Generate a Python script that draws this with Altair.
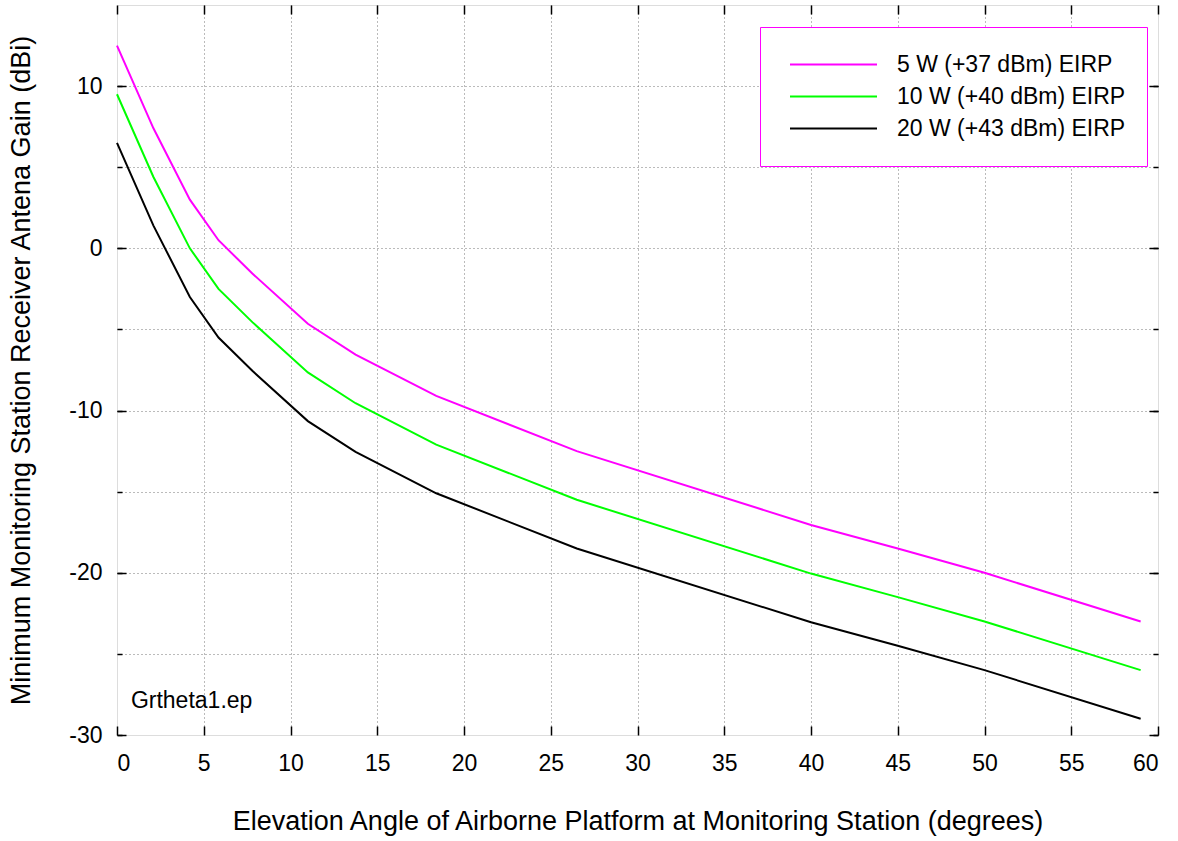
import altair as alt
import pandas as pd

# ---- data ----
angles = [0, 2.1, 4.2, 5.85, 7.8, 11.0, 13.75, 18.4, 26.5, 40, 45, 50, 59]
gain_5w = [12.5, 7.4, 3.0, 0.5, -1.55, -4.65, -6.55, -9.1, -12.5, -17.05, -18.5, -20.0, -23.0]
gain_10w = [9.5, 4.4, 0.0, -2.5, -4.55, -7.65, -9.55, -12.1, -15.5, -20.05, -21.5, -23.0, -26.0]
gain_20w = [6.5, 1.4, -3.0, -5.5, -7.55, -10.65, -12.55, -15.1, -18.5, -23.05, -24.5, -26.0, -29.0]

series_names = ["5 W (+37 dBm) EIRP", "10 W (+40 dBm) EIRP", "20 W (+43 dBm) EIRP"]
series_colors = ["#ff00ff", "#00ff00", "#000000"]
series_widths = [2, 2, 1.5]

x_ticks = [0, 5, 10, 15, 20, 25, 30, 35, 40, 45, 50, 55, 60]
x_grid = [5, 10, 15, 20, 25, 30, 35, 40, 45, 50, 55]
y_major = [-30, -20, -10, 0, 10]
y_minor = [-30, -25, -20, -15, -10, -5, 0, 5, 10]
y_grid = [-25, -20, -15, -10, -5, 0, 5, 10]

note_text = ["Grtheta1.ep"]
note_x = [0.8]
note_y = [-27.9]

x_title = "Elevation Angle of Airborne Platform at Monitoring Station (degrees)"
y_title = "Minimum Monitoring Station Receiver Antena Gain (dBi)"

FONT = "Liberation Sans"
W, H = 1041, 730
HYPHEN_LABEL = "datum.value < 0 ? '-' + abs(datum.value) : '' + datum.value"

rows = []
for name, vals in zip(series_names, [gain_5w, gain_10w, gain_20w]):
    for i, (a, g) in enumerate(zip(angles, vals)):
        rows.append({"angle": a, "gain": g, "series": name, "order": i})
df = pd.DataFrame(rows)
note_df = pd.DataFrame({"x": note_x, "y": note_y, "t": note_text})

xs = alt.Scale(domain=[0, 60], nice=False, zero=False)
ys = alt.Scale(domain=[-30, 15], nice=False, zero=False)

common = dict(domain=False, labelFont=FONT, titleFont=FONT, tickColor="#000",
              labelColor="#000", titleColor="#000", titleFontWeight="normal")

# grid layer
grid_layer = alt.Chart(df).mark_point(opacity=0).encode(
    x=alt.X("angle:Q", scale=xs, axis=alt.Axis(orient="bottom", values=x_grid, grid=True,
            gridDash=[1, 3], gridColor="#777", gridWidth=1, ticks=False, labels=False,
            title=None, **common)),
    y=alt.Y("gain:Q", scale=ys, axis=alt.Axis(orient="left", values=y_grid, grid=True,
            gridDash=[1, 3], gridColor="#777", gridWidth=1, ticks=False, labels=False,
            title=None, **common)),
)

lines = alt.Chart(df).mark_line().encode(
    x=alt.X("angle:Q", scale=xs, axis=alt.Axis(
        orient="bottom", values=x_ticks, offset=-9, tickSize=9, tickWidth=1.5,
        labelPadding=17, labelFontSize=23, grid=False, title=x_title, titleFontSize=27,
        titleX=W / 2, titleY=95, titleAlign="center", titleBaseline="middle",
        labelExpr=HYPHEN_LABEL, **common)),
    y=alt.Y("gain:Q", scale=ys, axis=alt.Axis(
        orient="left", values=y_major, offset=-9, tickSize=9, tickWidth=1.5,
        labelPadding=15, labelFontSize=23, grid=False, title=y_title, titleFontSize=27,
        titleX=-105, titleY=H / 2, titleAlign="center", titleBaseline="middle",
        titleAngle=270, labelExpr=HYPHEN_LABEL, **common)),
    color=alt.Color("series:N", scale=alt.Scale(domain=series_names, range=series_colors),
                    sort=series_names,
                    legend=alt.Legend(title=None, orient="none", legendX=643, legendY=22,
                                      strokeColor="#ff00ff", fillColor="#ffffff",
                                      padding=21.5, symbolType="stroke", symbolSize=7569,
                                      symbolStrokeWidth=2, symbolOffset=7.5, labelOffset=19,
                                      labelFontSize=23, labelFont=FONT, labelColor="#000",
                                      clipHeight=32, rowPadding=0, labelLimit=400)),
    strokeWidth=alt.StrokeWidth("series:N", scale=alt.Scale(domain=series_names, range=series_widths),
                                legend=None),
    order="order:Q",
)

top_left_minor = alt.Chart(df).mark_point(opacity=0).encode(
    x=alt.X("angle:Q", scale=xs, axis=alt.Axis(orient="top", values=x_ticks, offset=-9,
            tickSize=9, tickWidth=1.5, labels=False, grid=False, title=None, **common)),
    y=alt.Y("gain:Q", scale=ys, axis=alt.Axis(orient="left", values=y_minor, offset=-5,
            tickSize=5, tickWidth=1.5, labels=False, grid=False, title=None, **common)),
)

right_major = alt.Chart(df).mark_point(opacity=0).encode(
    x=alt.X("angle:Q", scale=xs, axis=None),
    y=alt.Y("gain:Q", scale=ys, axis=alt.Axis(orient="right", values=y_major, offset=-9,
            tickSize=9, tickWidth=1.5, labels=False, grid=False, title=None, **common)),
)

right_minor = alt.Chart(df).mark_point(opacity=0).encode(
    x=alt.X("angle:Q", scale=xs, axis=None),
    y=alt.Y("gain:Q", scale=ys, axis=alt.Axis(orient="right", values=y_minor, offset=-5,
            tickSize=5, tickWidth=1.5, labels=False, grid=False, title=None, **common)),
)

note = alt.Chart(note_df).mark_text(align="left", baseline="middle", fontSize=23,
                                     font=FONT, color="#000").encode(
    x=alt.X("x:Q", scale=xs, axis=None),
    y=alt.Y("y:Q", scale=ys, axis=None),
    text="t:N",
)

chart = alt.layer(grid_layer, lines, top_left_minor, right_major, right_minor, note).resolve_axis(
    x="independent", y="independent"
).properties(
    width=W, height=H,
    autosize=alt.AutoSizeParams(type="none"),
    padding={"left": 117, "top": 5, "right": 20, "bottom": 106},
).configure_view(stroke="#000", strokeWidth=2).configure(background="#ffffff")

chart.save("out.html", embed_options={"renderer": "svg", "actions": False})
